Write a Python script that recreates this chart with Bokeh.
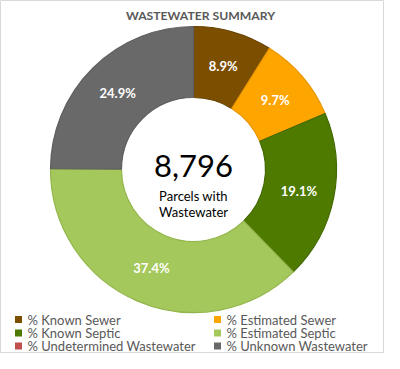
import math
from bokeh.plotting import figure
from bokeh.models import Range1d, ColumnDataSource
from bokeh.core.properties import value
from bokeh.embed import file_html
from bokeh.resources import INLINE

# ---- data ----
categories = ["% Known Sewer", "% Estimated Sewer", "% Known Septic",
              "% Estimated Septic", "% Undetermined Wastewater", "% Unknown Wastewater"]
percents = [8.9, 9.7, 19.1, 37.4, 0.0, 24.9]
colors = ["#7B4E00", "#FFA500", "#4E7A00", "#A5C85C", "#C0504D", "#696969"]
edge_colors = ["#6A4300", "#E89600", "#426A00", "#93B64C", "#A84442", "#5E5E5E"]
title_text = "WASTEWATER SUMMARY"
total_text = "8,796"
caption_lines = ["Parcels with", "Wastewater"]

FONT = "Lato"
W, H = 384, 353

p = figure(width=W, height=H, output_backend="svg", toolbar_location=None,
           x_range=Range1d(0, W), y_range=Range1d(0, H),
           min_border=0, outline_line_color="#D9D9D9", outline_line_width=1,
           background_fill_color="white", border_fill_color="white")
p.axis.visible = False
p.grid.visible = False

def Y(sy):
    # pixel row from the top -> data y
    return H - sy

cx, cy = 193, Y(169)
r_in, r_out = 72, 143

# wedges
starts, ends, fills, lines = [], [], [], []
cum = 0.0
label_x, label_y, label_t = [], [], []
for v, c, e in zip(percents, colors, edge_colors):
    a0 = math.pi / 2 - cum / 100 * 2 * math.pi
    a1 = math.pi / 2 - (cum + v) / 100 * 2 * math.pi
    if v > 0:
        starts.append(a0); ends.append(a1); fills.append(c); lines.append(e)
        mid = (a0 + a1) / 2
        rm = (r_in + r_out) / 2
        label_x.append(cx + rm * math.cos(mid))
        label_y.append(cy + rm * math.sin(mid))
        label_t.append(f"{v}%")
    cum += v

src = ColumnDataSource(dict(s=starts, e=ends, f=fills, l=lines))
p.annular_wedge(x=cx, y=cy, inner_radius=r_in, outer_radius=r_out,
                inner_radius_units="screen", outer_radius_units="screen",
                start_angle="s", end_angle="e", direction="clock",
                fill_color="f", line_color="l", line_width=1.2, source=src)

p.text(x=label_x, y=label_y, text=label_t, text_color="white",
       text_font=value(FONT), text_font_style="bold", text_font_size="13px",
       text_align="center", text_baseline="middle")

# center text
p.text(x=[cx], y=[Y(165)], text=[total_text], text_color="black",
       text_font=value(FONT), text_font_size="31px",
       text_align="center", text_baseline="middle")
p.text(x=[cx, cx], y=[Y(195), Y(211)], text=caption_lines, text_color="black",
       text_font=value(FONT), text_font_size="13px",
       text_align="center", text_baseline="middle")

# title
p.text(x=[200], y=[Y(15)], text=[title_text], text_color="#595959",
       text_font=value(FONT), text_font_style="bold", text_font_size="12.2px",
       text_align="center", text_baseline="middle")

# legend (2 columns)
col_x = [18, 217]
row_y = [319, 332.5, 345.5]
lx, ly, lt, lc = [], [], [], []
for i, (name, c) in enumerate(zip(categories, colors)):
    lx.append(col_x[i % 2]); ly.append(Y(row_y[i // 2])); lt.append(name); lc.append(c)
p.scatter(x=lx, y=ly, marker="square", size=7, fill_color=lc, line_color=None)
p.text(x=[x + 9 for x in lx], y=ly, text=lt, text_color="#595959",
       text_font=value(FONT), text_font_size="13px",
       text_align="left", text_baseline="middle")

open("out.html", "w").write(file_html(p, INLINE))
